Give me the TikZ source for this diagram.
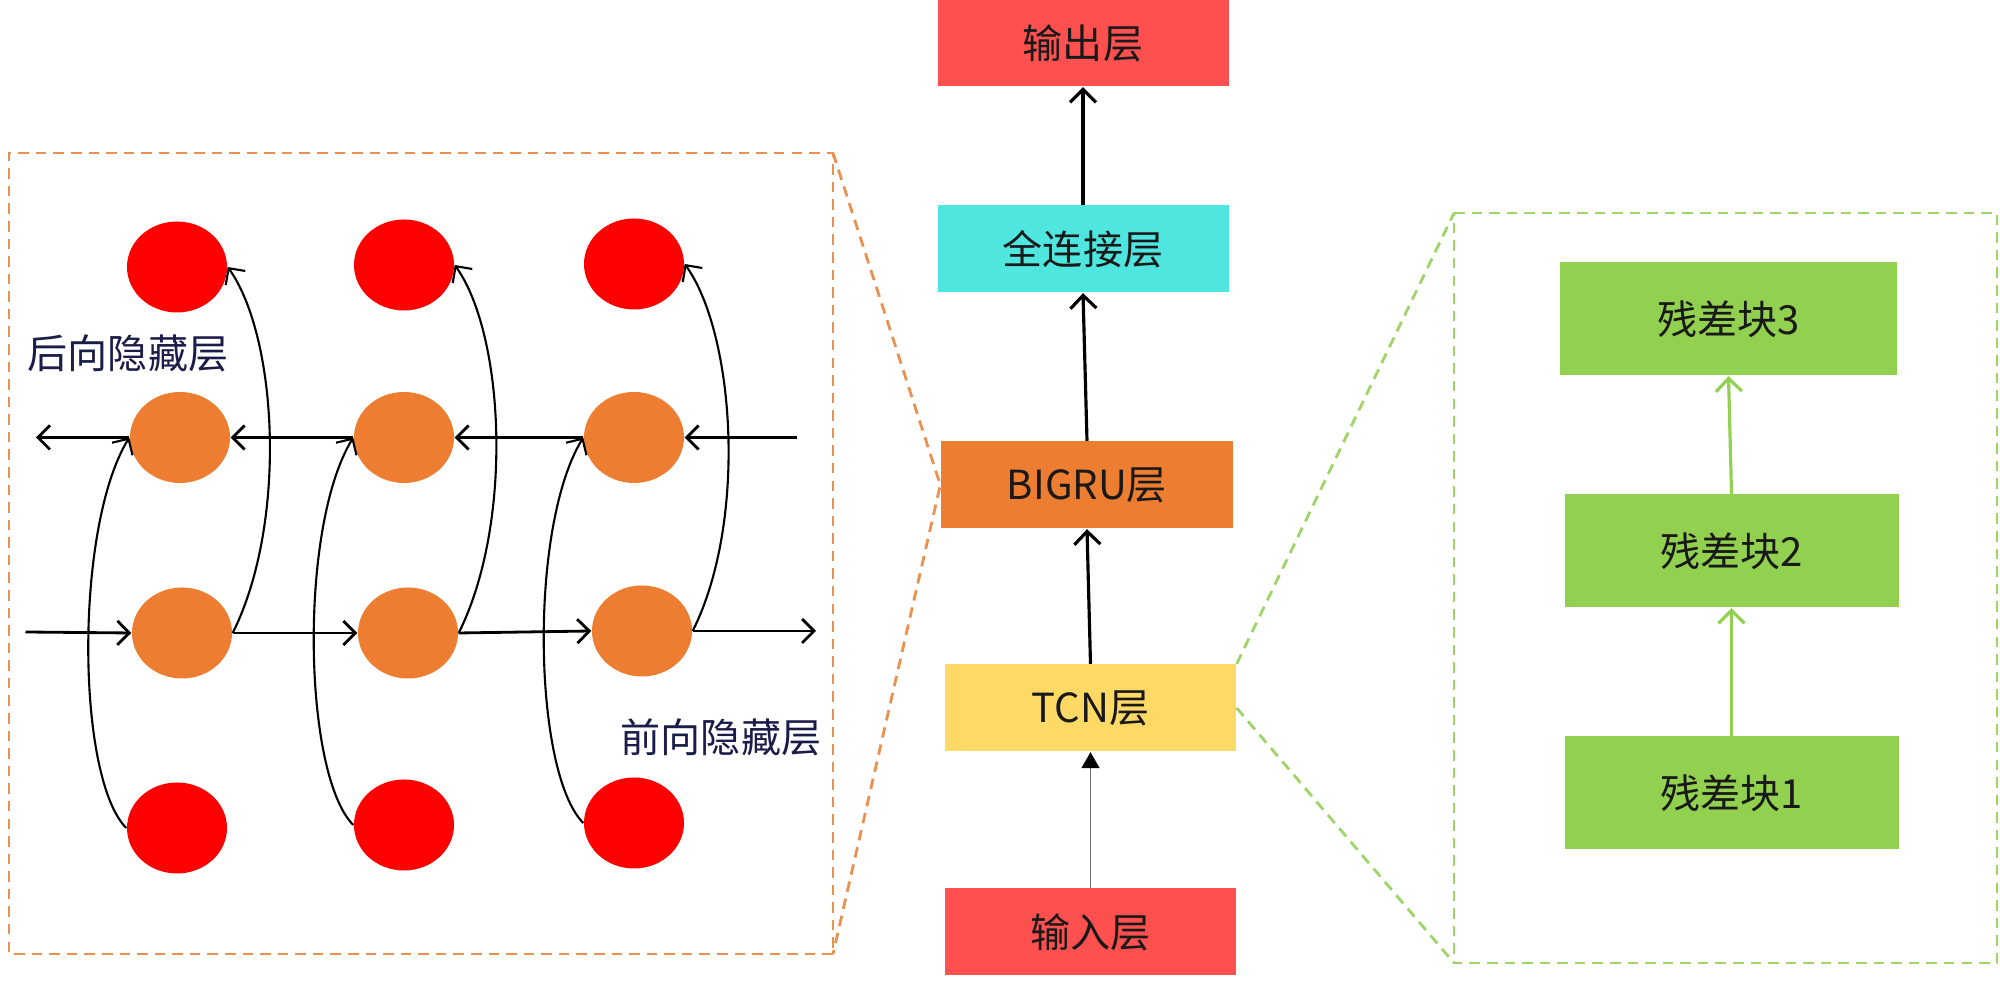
\documentclass[tikz,border=0pt]{standalone}
\usepackage{fontspec}
\setmainfont{Noto Sans CJK SC}
\usetikzlibrary{arrows.meta,shapes.geometric,calc}
\definecolor{boxred}{HTML}{FF5050}
\definecolor{boxcyan}{HTML}{4EE6DF}
\definecolor{boxorange}{HTML}{ED7D31}
\definecolor{boxyellow}{HTML}{FFD966}
\definecolor{resgreen}{HTML}{92D050}
\definecolor{cellred}{HTML}{FF0000}
\definecolor{dashorange}{HTML}{EA9050}
\definecolor{dashgreen}{HTML}{9ED468}
\definecolor{navy}{HTML}{1C1C4A}
\begin{document}
\begin{tikzpicture}[x=1cm,y=1cm,
  txt/.style={font=\fontsize{11.4}{13}\selectfont},
  layer/.style={rectangle, inner sep=0pt, minimum width=2.91cm, minimum height=0.87cm, txt, text=black!90},
  res/.style={rectangle, fill=resgreen, inner sep=0pt, minimum width=3.34cm, minimum height=1.13cm, txt, text=black!90},
  cell/.style={ellipse, inner sep=0pt, minimum width=1.0cm, minimum height=0.91cm},
  barb/.style={-{Straight Barb[length=1.2mm,width=2.4mm]}, line width=0.8pt},
  curvebarb/.style={-{Straight Barb[length=1.2mm,width=2.4mm]}, line width=0.6pt},
  carrow/.style={-{Straight Barb[length=1.3mm,width=2.6mm]}, line width=0.9pt},
  inarrow/.style={-{Triangle[length=1.6mm,width=1.8mm,color=black]}, draw=black!55, line width=0.5pt},
  garrow/.style={-{Straight Barb[length=1.3mm,width=2.6mm]}, draw=resgreen, line width=0.9pt},
  odash/.style={draw=dashorange, line width=0.8pt, dash pattern=on 3pt off 2pt},
  gdash/.style={draw=dashgreen, line width=0.8pt, dash pattern=on 3pt off 2pt},
  hidlbl/.style={txt, text=navy}
]
\useasboundingbox (0,0) rectangle (20,9.82);

% ---- centre column ----
\node[layer, fill=boxred]    (out)   at (10.83,9.39) {输出层};
\node[layer, fill=boxcyan]   (fc)    at (10.83,7.33) {全连接层};
\node[layer, fill=boxorange, minimum width=2.92cm] (bigru) at (10.87,4.97) {BIGRU层};
\node[layer, fill=boxyellow] (tcn)   at (10.905,2.74) {TCN层};
\node[layer, fill=boxred]    (inp)   at (10.905,0.50) {输入层};

\draw[inarrow] (inp.north) -- (tcn.south);
\draw[carrow] (tcn.north) -- (bigru.south);
\draw[carrow] (bigru.north) -- (fc.south);
\draw[carrow] (fc.north) -- (out.south);

% ---- left box (BiGRU detail) ----
\coordinate (lbl) at (0.09,0.28);
\coordinate (lbr) at (8.33,0.28);
\coordinate (ltr) at (8.33,8.29);
\coordinate (ltl) at (0.09,8.29);
\draw[odash] (lbr) -- (lbl) -- (ltl) -- (ltr) -- (lbr);
\draw[odash] (ltr) -- (bigru.west) -- (lbr);

\node[cell, fill=cellred] (t1) at (1.77,7.15) {};
\node[cell, fill=cellred] (t2) at (4.04,7.17) {};
\node[cell, fill=cellred] (t3) at (6.34,7.18) {};
\node[cell, fill=boxorange] (b1) at (1.80,5.445) {};
\node[cell, fill=boxorange] (b2) at (4.04,5.445) {};
\node[cell, fill=boxorange] (b3) at (6.34,5.445) {};
\node[cell, fill=boxorange] (f1) at (1.82,3.49) {};
\node[cell, fill=boxorange] (f2) at (4.08,3.49) {};
\node[cell, fill=boxorange] (f3) at (6.42,3.51) {};
\node[cell, fill=cellred] (r1) at (1.77,1.54) {};
\node[cell, fill=cellred] (r2) at (4.04,1.57) {};
\node[cell, fill=cellred] (r3) at (6.34,1.59) {};

\node[hidlbl] (lback) at (1.28,6.29) {后向隐藏层};
\node[hidlbl] (lfwd)  at (7.21,2.45) {前向隐藏层};

\coordinate (bl) at (0.36,5.445);
\coordinate (br) at (7.97,5.445);
\coordinate (fl) at (0.255,3.50);
\coordinate (fr) at (8.16,3.51);

% backward row
\draw[barb] (b1.west) -- (bl);
\draw[barb] (b2.west) -- (b1.east);
\draw[barb] (b3.west) -- (b2.east);
\draw[barb] (br) -- (b3.east);
% forward row
\draw[barb] (fl) -- (f1.west);
\draw[barb] (f1.east) -- (f2.west);
\draw[barb] (f2.east) -- (f3.west);
\draw[barb] (f3.east) -- (fr);

% forward hidden -> top red
\draw[curvebarb] (f1.east) .. controls +(0.55,1.1) and +(0.5,-0.7) .. (t1.east);
\draw[curvebarb] (f2.east) .. controls +(0.55,1.1) and +(0.5,-0.7) .. (t2.east);
\draw[curvebarb] (f3.east) .. controls +(0.55,1.1) and +(0.5,-0.7) .. (t3.east);
% bottom red -> backward hidden
\draw[curvebarb] (r1.west) .. controls +(-0.5,0.5) and +(-0.55,-0.9) .. (b1.west);
\draw[curvebarb] (r2.west) .. controls +(-0.5,0.5) and +(-0.55,-0.9) .. (b2.west);
\draw[curvebarb] (r3.west) .. controls +(-0.5,0.5) and +(-0.55,-0.9) .. (b3.west);

% ---- right box (TCN detail) ----
\coordinate (gtl) at (14.54,7.69);
\coordinate (gbl) at (14.54,0.19);
\coordinate (gtr) at (19.97,7.69);
\coordinate (gbr) at (19.97,0.19);
\draw[gdash] (gtl) -- (gtr) -- (gbr) -- (gbl) -- (gtl);
\draw[gdash] (tcn.north east) -- (gtl);
\draw[gdash] (tcn.east) -- (gbl);

\node[res, minimum width=3.37cm] (g3) at (17.285,6.63) {残差块3};
\node[res] (g2) at (17.315,4.31) {残差块2};
\node[res] (g1) at (17.315,1.89) {残差块1};
\draw[garrow] (g1.north) -- (g2.south);
\draw[garrow] (g2.north) -- (g3.south);
\end{tikzpicture}
\end{document}
